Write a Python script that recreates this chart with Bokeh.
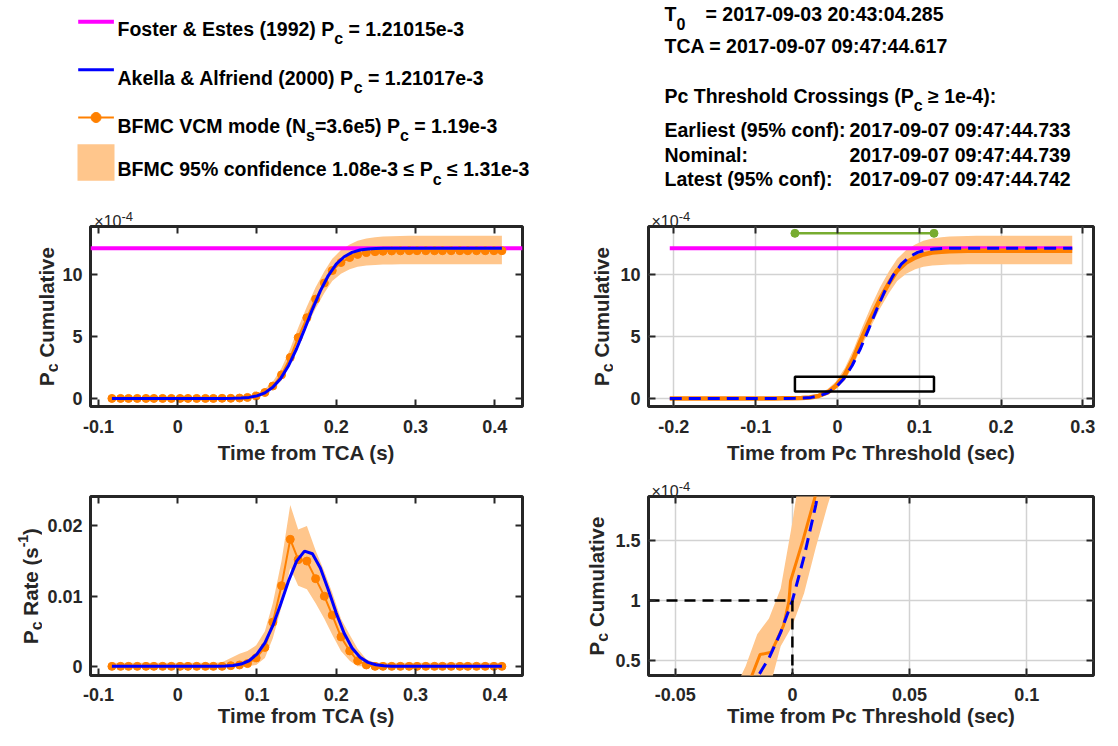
import math
from bokeh.plotting import figure
from bokeh.models import Range1d, FixedTicker, LinearAxis, Label
from bokeh.layouts import column, row
from bokeh.embed import file_html
from bokeh.resources import INLINE

# ---------------- data (Pc values in units of 1e-4 unless stated) ----------------
t_bfmc = [-0.083, -0.072, -0.062, -0.051, -0.040, -0.030, -0.019, -0.008, 0.003, 0.013,
          0.024, 0.035, 0.045, 0.056, 0.067, 0.078, 0.088, 0.099, 0.110, 0.120,
          0.131, 0.142, 0.152, 0.163, 0.174, 0.185, 0.195, 0.206, 0.217, 0.227,
          0.238, 0.249, 0.259, 0.270, 0.281, 0.292, 0.302, 0.313, 0.324, 0.334,
          0.345, 0.356, 0.366, 0.377, 0.388, 0.399, 0.409]
pc_cum_bfmc = [0.00, 0.00, 0.00, 0.00, 0.00, 0.00, 0.00, 0.00, 0.00, 0.00,
               0.00, 0.00, 0.00, 0.01, 0.01, 0.03, 0.08, 0.20, 0.48, 1.00,
               1.90, 3.30, 4.90, 6.50, 8.00, 9.30, 10.30, 10.95, 11.35, 11.60,
               11.75, 11.82, 11.86, 11.88, 11.89, 11.90, 11.90, 11.90, 11.90, 11.90,
               11.90, 11.90, 11.90, 11.90, 11.90, 11.90, 11.90]
pc_cum_bfmc_lo = [0.00, 0.00, 0.00, 0.00, 0.00, 0.00, 0.00, 0.00, 0.00, 0.00,
                  0.00, 0.00, 0.00, 0.00, 0.00, 0.00, 0.02, 0.10, 0.30, 0.75,
                  1.45, 2.75, 4.25, 5.80, 7.25, 8.50, 9.45, 10.05, 10.40, 10.60,
                  10.70, 10.75, 10.78, 10.79, 10.80, 10.80, 10.80, 10.80, 10.80, 10.80,
                  10.80, 10.80, 10.80, 10.80, 10.80, 10.80, 10.80]
pc_cum_bfmc_hi = [0.05, 0.05, 0.05, 0.05, 0.05, 0.05, 0.05, 0.05, 0.05, 0.05,
                  0.05, 0.05, 0.05, 0.06, 0.08, 0.12, 0.20, 0.38, 0.75, 1.35,
                  2.45, 4.00, 5.70, 7.40, 8.95, 10.25, 11.25, 11.95, 12.40, 12.70,
                  12.88, 12.98, 13.04, 13.07, 13.09, 13.10, 13.10, 13.10, 13.10, 13.10,
                  13.10, 13.10, 13.10, 13.10, 13.10, 13.10, 13.10]
pc_rate_bfmc = [0, 0, 0, 0, 0, 0, 0, 0, 0, 0,
                0, 0, 0, 0, 0.0001, 0.0002, 0.0004, 0.0012, 0.0027, 0.0063,
                0.0115, 0.0181, 0.0152, 0.0150, 0.0125, 0.0100, 0.0073, 0.0042, 0.0022, 0.0008,
                0.0002, 0, 0, 0, 0, 0, 0, 0, 0, 0,
                0, 0, 0, 0, 0, 0, 0]
pc_rate_bfmc_lo = [0, 0, 0, 0, 0, 0, 0, 0, 0, 0,
                   0, 0, 0, 0, 0, 0, 0, 0.0002, 0.0012, 0.0040,
                   0.0085, 0.0140, 0.0115, 0.0110, 0.0090, 0.0068, 0.0045, 0.0022, 0.0008, 0,
                   0, 0, 0, 0, 0, 0, 0, 0, 0, 0,
                   0, 0, 0, 0, 0, 0, 0]
pc_rate_bfmc_hi = [0.0005, 0.0005, 0.0005, 0.0005, 0.0005, 0.0005, 0.0005, 0.0005, 0.0005, 0.0005,
                   0.0005, 0.0005, 0.0005, 0.0006, 0.0012, 0.0018, 0.0022, 0.0030, 0.0050, 0.0090,
                   0.0150, 0.0230, 0.0195, 0.0200, 0.0165, 0.0135, 0.0105, 0.0068, 0.0045, 0.0025,
                   0.0010, 0.0005, 0.0005, 0.0005, 0.0005, 0.0005, 0.0005, 0.0005, 0.0005, 0.0005,
                   0.0005, 0.0005, 0.0005, 0.0005, 0.0005, 0.0005, 0.0005]

t_aa = [-0.083, 0.04, 0.05, 0.06, 0.07, 0.08, 0.09, 0.10, 0.11, 0.12, 0.13, 0.14, 0.15,
        0.16, 0.17, 0.18, 0.19, 0.20, 0.21, 0.22, 0.23, 0.24, 0.25, 0.26, 0.27, 0.28,
        0.30, 0.409]
pc_cum_aa = [0.0, 0.0, 0.001, 0.003, 0.011, 0.031, 0.084, 0.205, 0.449, 0.893, 1.613, 2.655,
             4.002, 5.564, 7.179, 8.667, 9.901, 10.813, 11.413, 11.767, 11.955, 12.042,
             12.079, 12.093, 12.098, 12.100, 12.1017, 12.1017]
pc_rate_aa = [0.0, 0.0, 0.00001, 0.00004, 0.00012, 0.00033, 0.00080, 0.00174, 0.00336,
              0.00579, 0.00890, 0.01222, 0.01499, 0.01642, 0.01605, 0.01401, 0.01091,
              0.00759, 0.00472, 0.00262, 0.00130, 0.00057, 0.00023, 0.00008, 0.00002,
              0.0, 0.0, 0.0]

pc_foster = 12.1015
tca_to_threshold = 0.122      # 09:47:44.739 - 09:47:44.617
pc_threshold = 1.0            # 1e-4

# zoom window shown in the upper right panel
zoom_box_x = [-0.052, 0.118]
zoom_box_y = [0.55, 1.75]
zoom_bar_y = 13.3

# finer BFMC / analytic values around the threshold (time from Pc threshold)
zoom_bfmc_t = [-0.030, -0.025, -0.0172, -0.0138, -0.009, -0.0038, -0.0015, -0.0008,
               0.0045, 0.0098, 0.014, 0.020]
zoom_bfmc_pc = [0.08, 0.15, 0.38, 0.55, 0.57, 0.79, 0.99, 1.16, 1.50, 1.87, 2.20, 2.60]
zoom_band_t = [-0.030, -0.025, -0.020, -0.015, -0.010, -0.005, 0.000, 0.005, 0.010,
               0.015, 0.020, 0.025]
zoom_band_lo = [0.00, 0.02, 0.08, 0.15, 0.25, 0.62, 0.79, 1.06, 1.44, 1.79, 2.10, 2.40]
zoom_band_hi = [0.12, 0.25, 0.45, 0.72, 0.85, 1.10, 1.65, 2.30, 2.90, 3.40, 3.90, 4.40]
zoom_aa_t = [-0.025, -0.020, -0.015, -0.010, -0.005, 0.000, 0.005, 0.010, 0.015, 0.020]
zoom_aa_pc = [0.159, 0.242, 0.359, 0.520, 0.734, 1.000, 1.365, 1.794, 2.309, 2.900]

# ticks
xticks_tca = [-0.1, 0.0, 0.1, 0.2, 0.3, 0.4]
xtick_labels_tca = ["-0.1", "0", "0.1", "0.2", "0.3", "0.4"]
xticks_thr = [-0.2, -0.1, 0.0, 0.1, 0.2, 0.3]
xtick_labels_thr = ["-0.2", "-0.1", "0", "0.1", "0.2", "0.3"]
xticks_zoom = [-0.05, 0.0, 0.05, 0.1]
xtick_labels_zoom = ["-0.05", "0", "0.05", "0.1"]
yticks_cum = [0, 5, 10]
ytick_labels_cum = ["0", "5", "10"]
yticks_rate = [0.0, 0.01, 0.02]
ytick_labels_rate = ["0", "0.01", "0.02"]
yticks_zoom = [0.5, 1.0, 1.5]
ytick_labels_zoom = ["0.5", "1", "1.5"]

t_bfmc_thr = [t - tca_to_threshold for t in t_bfmc]
t_aa_thr = [t - tca_to_threshold for t in t_aa]

# ---------------- styling ----------------
FONT = "Liberation Sans"
DARK = "#262626"
ORANGE = "#FF8000"
BAND = "#FFC68C"
BLUE = "#0000FF"
MAGENTA = "#FF00FF"
GREEN = "#77AC30"
GRID = "#D2D2D2"
TICK_PX = "18px"
LAB_PX = "20.5px"

HB = {' ': 278, '!': 333, '%': 889, '&': 722, '(': 333, ')': 333, '-': 333, '.': 278,
      ':': 333, '=': 584, 'A': 722, 'B': 722, 'C': 722, 'D': 722, 'E': 667, 'F': 611,
      'G': 778, 'H': 722, 'I': 278, 'L': 611, 'M': 833, 'N': 722, 'O': 778, 'P': 667,
      'R': 722, 'S': 667, 'T': 611, 'V': 667, 'a': 556, 'b': 611, 'c': 556, 'd': 611,
      'e': 556, 'f': 333, 'g': 611, 'h': 611, 'i': 278, 'k': 556, 'l': 278, 'm': 889,
      'n': 611, 'o': 611, 'p': 611, 'r': 389, 's': 556, 't': 333, 'u': 611, 'v': 556,
      'w': 778, 'x': 556, 'y': 556, '\u2264': 549, '\u2265': 549, '\u00d7': 584}


def tw(s, size):
    return sum(HB.get(ch, 556) for ch in s) * size / 1000.0


def rich_text(p, x, y, segs, angle=0.0, align="left", color="#000000"):
    """segs: (text, size_px, shift_px, bold); shift>0 lowers (subscript), <0 raises."""
    widths = [tw(s[0], s[1]) for s in segs]
    total = sum(widths)
    pos = -total / 2.0 if align == "center" else 0.0
    for (txt, size, shift, bold), w in zip(segs, widths):
        lead = len(txt) - len(txt.lstrip(" "))
        core = txt.strip(" ")
        adv = tw(" " * lead, size)
        if core:
            if angle == 0:
                xo, yo = pos + adv, -shift
            else:
                xo, yo = shift, pos + adv
            p.add_layout(Label(x=x, y=y, x_offset=xo, y_offset=yo, text=core, angle=angle,
                               text_font=FONT, text_font_size=f"{size}px",
                               text_font_style="bold" if bold else "normal",
                               text_color=color, text_align="left",
                               text_baseline="alphabetic"))
        pos += w


def canvas(w, h, bl=0, br=0, bt=0, bb=0):
    """Blank figure; data units are pixels of its frame (y downwards)."""
    fw, fh = w - bl - br, h - bt - bb
    p = figure(width=w, height=h, x_range=Range1d(0, fw), y_range=Range1d(fh, 0),
               output_backend="svg", toolbar_location=None, title=None,
               x_axis_type=None, y_axis_type=None)
    p.min_border = 0
    p.min_border_left = bl
    p.min_border_right = br
    p.min_border_top = bt
    p.min_border_bottom = bb
    p.outline_line_color = None
    p.background_fill_color = "white"
    p.border_fill_color = "white"
    return p


def style_axis(ax, ticks, labels, show, standoff):
    ax.ticker = FixedTicker(ticks=ticks)
    ax.major_label_overrides = {t: l for t, l in zip(ticks, labels)}
    ax.axis_line_color = None
    ax.major_tick_in = 7
    ax.major_tick_out = 0
    ax.major_tick_line_color = DARK
    ax.major_tick_line_width = 2
    ax.minor_tick_line_color = None
    ax.major_label_text_font = FONT
    ax.major_label_text_font_style = "bold"
    ax.major_label_standoff = standoff
    if show:
        ax.major_label_text_color = DARK
        ax.major_label_text_font_size = TICK_PX
    else:
        ax.major_label_text_color = None
        ax.major_label_text_font_size = "1px"


def make_axes(w, h, bl, br, bt, bb, xr, yr, xt, xtl, yt, ytl, grid, xlabel,
              tick_standoff, label_standoff):
    p = figure(width=w, height=h, x_range=Range1d(*xr), y_range=Range1d(*yr),
               output_backend="svg", toolbar_location=None, title=None)
    p.min_border_left = bl
    p.min_border_right = br
    p.min_border_top = bt
    p.min_border_bottom = bb
    top_ax = LinearAxis()
    right_ax = LinearAxis()
    p.add_layout(top_ax, "above")
    p.add_layout(right_ax, "right")
    bottom_ax = p.below[0]
    style_axis(bottom_ax, xt, xtl, True, tick_standoff)
    style_axis(top_ax, xt, xtl, False, 0)
    style_axis(p.left[0], yt, ytl, True, 8)
    style_axis(right_ax, yt, ytl, False, 0)
    bottom_ax.axis_label = xlabel
    bottom_ax.axis_label_text_font = FONT
    bottom_ax.axis_label_text_font_size = LAB_PX
    bottom_ax.axis_label_text_font_style = "bold"
    bottom_ax.axis_label_text_color = DARK
    bottom_ax.axis_label_standoff = label_standoff
    p.outline_line_color = DARK
    p.outline_line_width = 3
    p.background_fill_color = "white"
    p.border_fill_color = "white"
    if grid:
        p.xgrid.ticker = FixedTicker(ticks=xt)
        p.ygrid.ticker = FixedTicker(ticks=yt)
        p.grid.grid_line_color = GRID
        p.grid.grid_line_width = 1.5
    else:
        p.grid.visible = False
    return p


def exponent_strip(w, h, bl, br, x, yb):
    s = canvas(w, h, bl=bl, br=br)
    rich_text(s, x, yb, [("\u00d710", 16, 0, False), ("-4", 13, -5, False)], color=DARK)
    return s


def ylabel_strip(w, h, bt, bb, x, segs):
    s = canvas(w, h, bt=bt, bb=bb)
    rich_text(s, x, (h - bt - bb) / 2.0, segs, angle=math.pi / 2, align="center", color=DARK)
    return s


cum_label = [("P", 20.5, 0, True), ("c", 16, 6, True), (" Cumulative", 20.5, 0, True)]
rate_label = [("P", 20.5, 0, True), ("c", 16, 6, True), (" Rate (s", 20.5, 0, True),
              ("-1", 14, -7, True), (")", 20.5, 0, True)]

# ---------------- top-left: cumulative vs time from TCA ----------------
xr_tca = (-0.11, 0.435)
yr_cum = (-0.65, 13.85)
p_tl = make_axes(494, 243, 32, 30, 1, 62, xr_tca, yr_cum, xticks_tca, xtick_labels_tca,
                 yticks_cum, ytick_labels_cum, False, "Time from TCA (s)", 13, 5)
p_tl.varea(x=t_bfmc, y1=pc_cum_bfmc_lo, y2=pc_cum_bfmc_hi, fill_color=BAND)
p_tl.line(x=list(xr_tca), y=[pc_foster, pc_foster], line_color=MAGENTA, line_width=4)
p_tl.line(x=t_bfmc, y=pc_cum_bfmc, line_color=ORANGE, line_width=2)
p_tl.scatter(x=t_bfmc, y=pc_cum_bfmc, size=8, fill_color=ORANGE, line_color=ORANGE)
p_tl.line(x=t_aa, y=pc_cum_aa, line_color=BLUE, line_width=3)

# ---------------- top-right: cumulative vs time from threshold ----------------
xr_thr = (-0.231, 0.313)
p_tr = make_axes(489, 243, 35, 9, 1, 62, xr_thr, yr_cum, xticks_thr, xtick_labels_thr,
                 yticks_cum, ytick_labels_cum, True, "Time from Pc Threshold (sec)", 13, 5)
p_tr.varea(x=t_bfmc_thr, y1=pc_cum_bfmc_lo, y2=pc_cum_bfmc_hi, fill_color=BAND)
p_tr.line(x=[t_aa_thr[0], t_aa_thr[-1]], y=[pc_foster, pc_foster], line_color=MAGENTA,
          line_width=4)
p_tr.line(x=t_bfmc_thr, y=pc_cum_bfmc, line_color=ORANGE, line_width=4.5)
p_tr.line(x=t_aa_thr, y=pc_cum_aa, line_color=BLUE, line_width=3, line_dash="12 7")
p_tr.line(x=zoom_box_x, y=[zoom_bar_y, zoom_bar_y], line_color=GREEN, line_width=2.5)
p_tr.scatter(x=zoom_box_x, y=[zoom_bar_y, zoom_bar_y], size=8, fill_color=GREEN,
             line_color=GREEN)
p_tr.quad(left=[zoom_box_x[0]], right=[zoom_box_x[1]], bottom=[zoom_box_y[0]],
          top=[zoom_box_y[1]], fill_color=None, line_color="black", line_width=2.5)

# ---------------- bottom-left: rate vs time from TCA ----------------
yr_rate = (-0.0013, 0.0242)
p_bl = make_axes(510, 262, 48, 30, 28, 55, xr_tca, yr_rate, xticks_tca, xtick_labels_tca,
                 yticks_rate, ytick_labels_rate, False, "Time from TCA (s)", 12, 0)
p_bl.varea(x=t_bfmc, y1=pc_rate_bfmc_lo, y2=pc_rate_bfmc_hi, fill_color=BAND)
p_bl.line(x=t_bfmc, y=pc_rate_bfmc, line_color=ORANGE, line_width=2)
p_bl.scatter(x=t_bfmc, y=pc_rate_bfmc, size=8, fill_color=ORANGE, line_color=ORANGE)
p_bl.line(x=t_aa, y=pc_rate_aa, line_color=BLUE, line_width=3)

# ---------------- bottom-right: zoom on the threshold crossing ----------------
xr_zoom = (-0.0614, 0.1285)
yr_zoom = (0.376, 1.865)
p_br = make_axes(494, 235, 40, 9, 1, 55, xr_zoom, yr_zoom, xticks_zoom, xtick_labels_zoom,
                 yticks_zoom, ytick_labels_zoom, True, "Time from Pc Threshold (sec)", 12, 0)
p_br.varea(x=zoom_band_t, y1=zoom_band_lo, y2=zoom_band_hi, fill_color=BAND)
p_br.line(x=zoom_bfmc_t, y=zoom_bfmc_pc, line_color=ORANGE, line_width=3)
p_br.line(x=zoom_aa_t, y=zoom_aa_pc, line_color=BLUE, line_width=3, line_dash="12 7")
p_br.line(x=[xr_zoom[0], 0.0], y=[pc_threshold, pc_threshold], line_color="black",
          line_width=2.5, line_dash="11 7")
p_br.line(x=[0.0, 0.0], y=[pc_threshold, yr_zoom[0]], line_color="black",
          line_width=2.5, line_dash="11 7")

# ---------------- label strips ----------------
s_tl = ylabel_strip(58, 273, 31, 62, 45.6, cum_label)
s_tr = ylabel_strip(61, 273, 31, 62, 49, cum_label)
s_bl = ylabel_strip(42, 262, 28, 55, 29.5, rate_label)
s_br = ylabel_strip(56, 262, 28, 55, 43.7, cum_label)
e_tl = exponent_strip(494, 30, 32, 30, 3.8, 26)
e_tr = exponent_strip(489, 30, 35, 9, 3, 26)
e_br = exponent_strip(494, 27, 40, 9, 3, 23)

# ---------------- top band: legend and event information ----------------
p_top = canvas(1102, 195)
leg_x0, leg_x1, leg_tx = 77.7, 113.4, 117
leg_rows = [21.3, 69.3, 117]
leg_base = [28, 77, 125.3, 168.7]
p_top.line(x=[leg_x0, leg_x1], y=[leg_rows[0]] * 2, line_color=MAGENTA, line_width=4)
p_top.line(x=[leg_x0, leg_x1], y=[leg_rows[1]] * 2, line_color=BLUE, line_width=3)
p_top.line(x=[leg_x0, leg_x1], y=[leg_rows[2]] * 2, line_color=ORANGE, line_width=2)
p_top.scatter(x=[(leg_x0 + leg_x1) / 2.0], y=[leg_rows[2]], size=10, fill_color=ORANGE,
              line_color=ORANGE)
p_top.quad(left=[77], right=[114], top=[143.7], bottom=[180.3], fill_color=BAND,
           line_color=None)

legend_entries = [
    [("Foster & Estes (1992) P", 19.5, 0, True), ("c", 16, 10, True),
     (" = 1.21015e-3", 19.5, 0, True)],
    [("Akella & Alfriend (2000) P", 19.5, 0, True), ("c", 16, 10, True),
     (" = 1.21017e-3", 19.5, 0, True)],
    [("BFMC VCM mode (N", 19.5, 0, True), ("s", 16, 10, True), ("=3.6e5) P", 19.5, 0, True),
     ("c", 16, 10, True), (" = 1.19e-3", 19.5, 0, True)],
    [("BFMC 95% confidence 1.08e-3 \u2264 P", 19.5, 0, True), ("c", 16, 10, True),
     (" \u2264 1.31e-3", 19.5, 0, True)],
]
for segs, yb in zip(legend_entries, leg_base):
    rich_text(p_top, leg_tx, yb, segs)

info_x, info_eq_x, info_date_x = 664, 705, 849
rich_text(p_top, info_x, 13, [("T", 19.5, 0, True), ("0", 16, 10, True)])
rich_text(p_top, info_eq_x, 13, [("= 2017-09-03 20:43:04.285", 19.5, 0, True)])
rich_text(p_top, info_x, 45, [("TCA = 2017-09-07 09:47:44.617", 19.5, 0, True)])
rich_text(p_top, info_x, 95, [("Pc Threshold Crossings (P", 19.5, 0, True),
                              ("c", 16, 10, True), (" \u2265 1e-4):", 19.5, 0, True)])
crossing_names = ["Earliest (95% conf):", "Nominal:", "Latest (95% conf):"]
crossing_times = ["2017-09-07 09:47:44.733", "2017-09-07 09:47:44.739",
                  "2017-09-07 09:47:44.742"]
for name, tstr, yb in zip(crossing_names, crossing_times, [129, 154, 178]):
    rich_text(p_top, info_x, yb, [(name, 19.5, 0, True)])
    rich_text(p_top, info_date_x, yb, [(tstr, 19.5, 0, True)])

layout = column(
    p_top,
    row(s_tl, column(e_tl, p_tl), s_tr, column(e_tr, p_tr)),
    row(s_bl, p_bl, s_br, column(e_br, p_br)),
)
open("out.html", "w").write(file_html(layout, INLINE))
